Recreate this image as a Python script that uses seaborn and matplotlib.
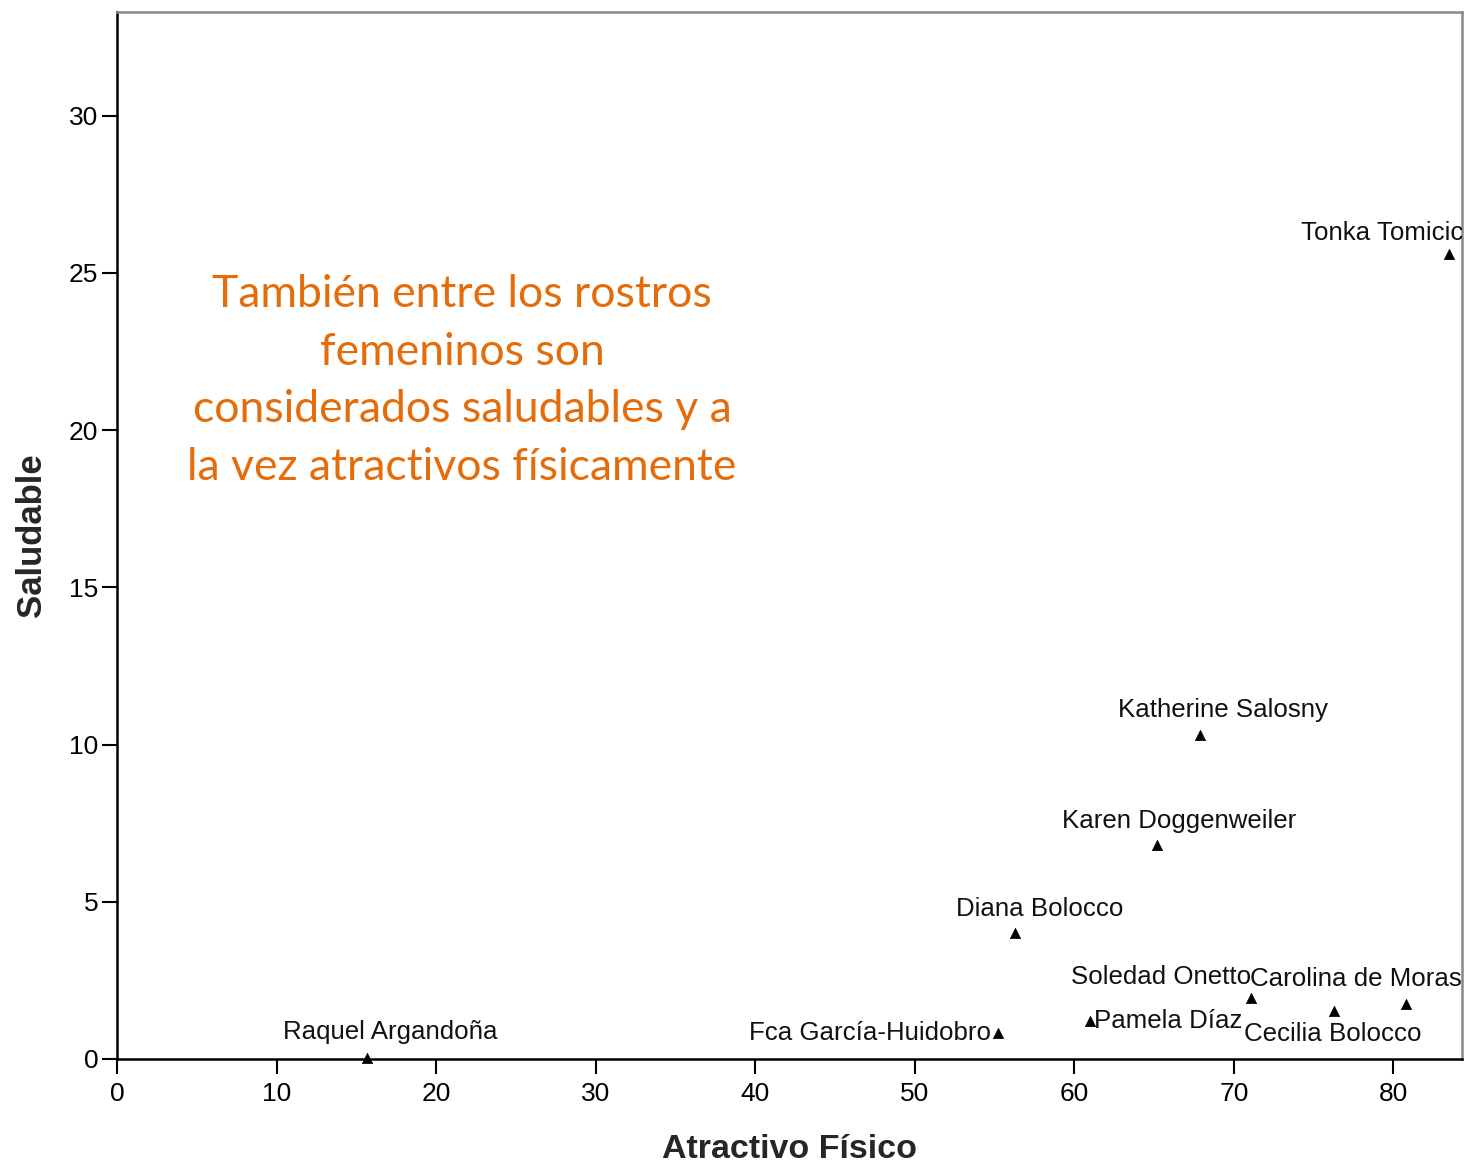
import matplotlib
matplotlib.use("Agg")
import matplotlib.pyplot as plt
import seaborn as sns
import pandas as pd

names = ["Tonka Tomicic", "Katherine Salosny", "Karen Doggenweiler", "Diana Bolocco",
         "Soledad Onetto", "Carolina de Moras", "Cecilia Bolocco", "Pamela Díaz",
         "Fca García-Huidobro", "Raquel Argandoña"]
atractivo = [83.5, 67.9, 65.2, 56.3, 71.1, 80.8, 76.3, 61.0, 55.2, 15.7]
saludable = [25.6, 10.3, 6.8, 4.0, 1.94, 1.75, 1.53, 1.2, 0.83, 0.03]
# label offsets in pixels (dx, dy) relative to the point, dy positive = up
label_dx = [-67, 23, 22, 24, -90, -50, -2, 78, -128, 23]
label_dy = [21, 25, 24, 24, 21, 25, -23, 0, 0, 26]

x_ticks = [0, 10, 20, 30, 40, 50, 60, 70, 80]
y_ticks = [0, 5, 10, 15, 20, 25, 30]
note = "También entre los rostros\nfemeninos son\nconsiderados saludables y a\nla vez atractivos físicamente"

sns.set_style("ticks")
plt.rcParams['font.family'] = ['Liberation Sans', 'DejaVu Sans']

df = pd.DataFrame({"Atractivo Físico": atractivo, "Saludable": saludable, "name": names})

fig = plt.figure(figsize=(14.64, 11.64), dpi=100)
ax = fig.add_axes([117/1464, 1 - 1059/1164, (1462-117)/1464, (1059-12)/1164])

sns.scatterplot(data=df, x="Atractivo Físico", y="Saludable", marker="^", color="black",
                s=55, edgecolor="black", linewidth=0.5, ax=ax, clip_on=False, zorder=3)

px = 72 / 100
for n, xv, yv, dx, dy in zip(names, atractivo, saludable, label_dx, label_dy):
    ax.annotate(n, (xv, yv), xytext=(dx * px, dy * px), textcoords="offset points",
                ha="center", va="center", fontsize=18.6, color="#111111",
                annotation_clip=False, clip_on=True)

ax.set_xlim(0, 84.3)
ax.set_ylim(0, 33.3)
ax.set_xticks(x_ticks)
ax.set_yticks(y_ticks)
ax.tick_params(axis="both", labelsize=19, length=10.5, width=1.5, colors="black", pad=3)
ax.tick_params(axis="x", pad=6)
ax.set_xlabel("Atractivo Físico", fontsize=24.5, fontweight="bold", labelpad=20)
ax.set_ylabel("Saludable", fontsize=25, fontweight="bold", labelpad=15)

for side in ["left", "bottom"]:
    ax.spines[side].set_color("black")
    ax.spines[side].set_linewidth(1.8)
for side in ["top", "right"]:
    ax.spines[side].set_visible(True)
    ax.spines[side].set_color("#888888")
    ax.spines[side].set_linewidth(1.8)

fig.text(462/1464, 1 - 381/1164, note, ha="center", va="center", fontsize=32,
         color="#E46C0A", family=["Lato", "DejaVu Sans"], linespacing=1.5)

fig.savefig("out.png", dpi=100, facecolor="white")
